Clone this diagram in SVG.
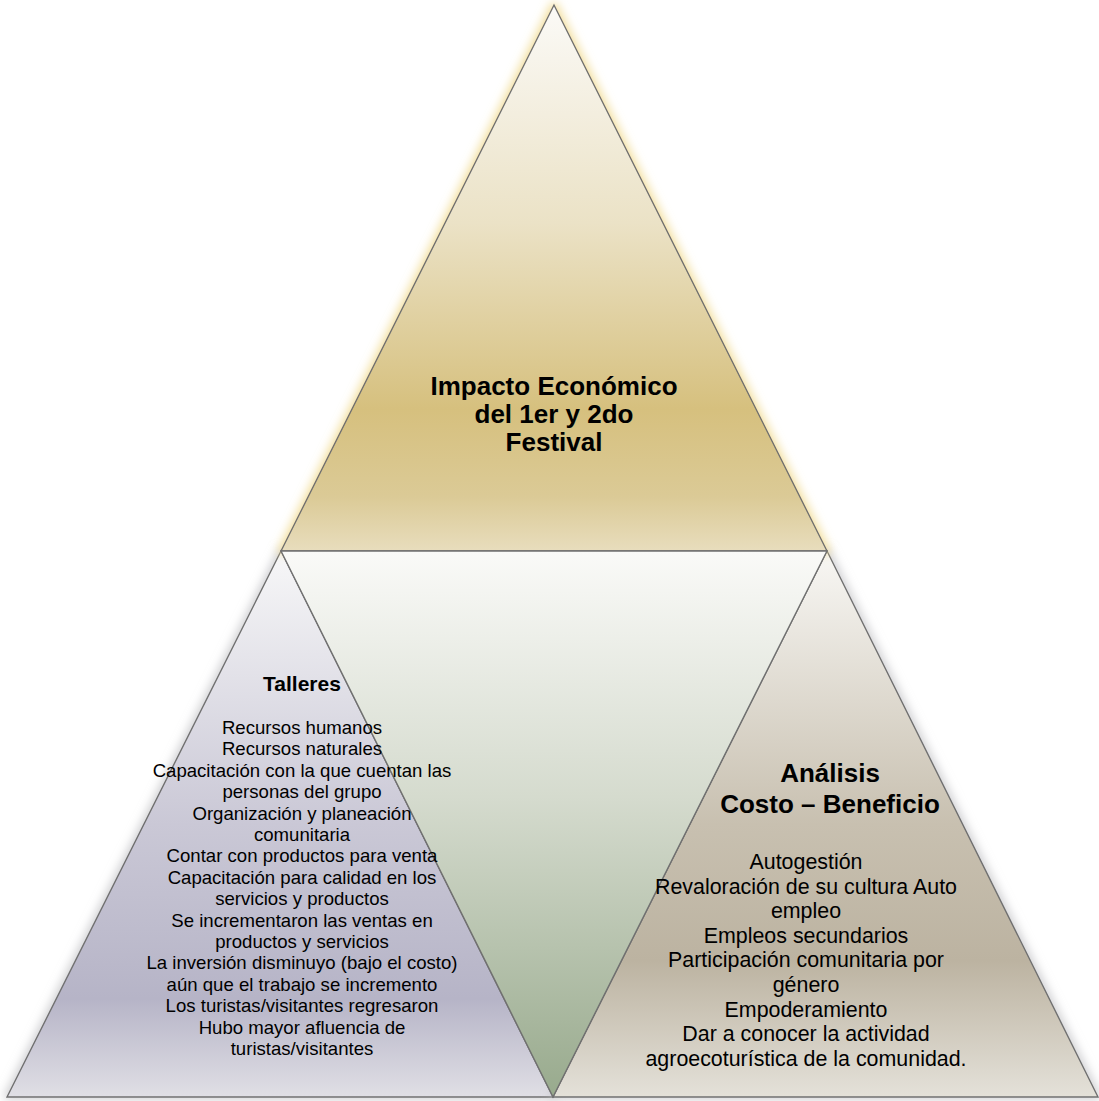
<svg xmlns="http://www.w3.org/2000/svg" width="1099" height="1101" viewBox="0 0 1099 1101">
  <style>
    .tri { stroke: #707070; stroke-width: 1.4; stroke-linejoin: miter; }
    .head { font-family: "Liberation Sans", Arial, sans-serif; font-weight: bold; fill: #000; text-anchor: middle; }
    .body { font-family: "Liberation Sans", Arial, sans-serif; fill: #000; text-anchor: middle; }
  </style>
  <defs>
    <linearGradient id="gTop" x1="0" y1="5" x2="0" y2="551" gradientUnits="userSpaceOnUse">
      <stop offset="0" stop-color="#fbfaf7"/>
      <stop offset="0.4" stop-color="#ebe2c6"/>
      <stop offset="0.74" stop-color="#d6c07e"/>
      <stop offset="0.9" stop-color="#dbca96"/>
      <stop offset="1" stop-color="#e8ddbd"/>
    </linearGradient>
    <linearGradient id="gMid" x1="0" y1="551" x2="0" y2="1097" gradientUnits="userSpaceOnUse">
      <stop offset="0" stop-color="#fafaf8"/>
      <stop offset="0.45" stop-color="#d5dbce"/>
      <stop offset="1" stop-color="#98aa8d"/>
    </linearGradient>
    <linearGradient id="gLeft" x1="0" y1="551" x2="0" y2="1097" gradientUnits="userSpaceOnUse">
      <stop offset="0" stop-color="#f7f7f8"/>
      <stop offset="0.5" stop-color="#cac8d6"/>
      <stop offset="0.82" stop-color="#b6b4c7"/>
      <stop offset="1" stop-color="#e0dfe5"/>
    </linearGradient>
    <linearGradient id="gRight" x1="0" y1="551" x2="0" y2="1097" gradientUnits="userSpaceOnUse">
      <stop offset="0" stop-color="#f8f7f4"/>
      <stop offset="0.5" stop-color="#c8c0b0"/>
      <stop offset="0.75" stop-color="#bcb3a1"/>
      <stop offset="1" stop-color="#e4e1d9"/>
    </linearGradient>
    <filter id="glowGold" x="-10%" y="-10%" width="120%" height="120%">
      <feMorphology in="SourceAlpha" operator="dilate" radius="2" result="d"/>
      <feGaussianBlur in="d" stdDeviation="5" result="b"/>
      <feFlood flood-color="#f0d888" flood-opacity="0.8"/>
      <feComposite in2="b" operator="in" result="g"/>
      <feMerge><feMergeNode in="g"/><feMergeNode in="SourceGraphic"/></feMerge>
    </filter>
    <filter id="glowGray" x="-10%" y="-10%" width="120%" height="120%">
      <feMorphology in="SourceAlpha" operator="dilate" radius="2" result="d"/>
      <feGaussianBlur in="d" stdDeviation="5" result="b"/>
      <feFlood flood-color="#b8b8bc" flood-opacity="0.65"/>
      <feComposite in2="b" operator="in" result="g"/>
      <feMerge><feMergeNode in="g"/><feMergeNode in="SourceGraphic"/></feMerge>
    </filter>
  </defs>
  <rect width="1099" height="1101" fill="#ffffff"/>

  <g id="connectors"/>

  <g id="node-left">
    <polygon class="tri" points="281,551 7,1097 553,1097" fill="url(#gLeft)" filter="url(#glowGray)"/>
  </g>
  <g id="node-right">
    <polygon class="tri" points="827,551 553,1097 1098,1097" fill="url(#gRight)" filter="url(#glowGray)"/>
  </g>
  <g id="node-top">
    <polygon class="tri" points="554,5 281,551 827,551" fill="url(#gTop)" filter="url(#glowGold)"/>
    <text class="head" font-size="26" x="554" y="395">Impacto Económico</text>
    <text class="head" font-size="26" x="554" y="423">del 1er y 2do</text>
    <text class="head" font-size="26" x="554" y="451">Festival</text>
  </g>
  <g id="node-center">
    <polygon class="tri" points="281,551 827,551 553,1097" fill="url(#gMid)"/>
  </g>

  <g id="node-left-text">
    <text class="head" font-size="21" x="302" y="691">Talleres</text>
    <g class="body" font-size="18.6">
      <text x="302" y="734">Recursos humanos</text>
      <text x="302" y="755.4">Recursos naturales</text>
      <text x="302" y="776.8">Capacitación con la que cuentan las</text>
      <text x="302" y="798.2">personas del grupo</text>
      <text x="302" y="819.6">Organización y planeación</text>
      <text x="302" y="841">comunitaria</text>
      <text x="302" y="862.4">Contar con productos para venta</text>
      <text x="302" y="883.8">Capacitación para calidad en los</text>
      <text x="302" y="905.2">servicios y productos</text>
      <text x="302" y="926.6">Se incrementaron las ventas en</text>
      <text x="302" y="948">productos y servicios</text>
      <text x="302" y="969.4">La inversión disminuyo (bajo el costo)</text>
      <text x="302" y="990.8">aún que el trabajo se incremento</text>
      <text x="302" y="1012.2">Los turistas/visitantes regresaron</text>
      <text x="302" y="1033.6">Hubo mayor afluencia de</text>
      <text x="302" y="1055">turistas/visitantes</text>
    </g>
  </g>

  <g id="node-right-text">
    <text class="head" font-size="26" x="830" y="782">Análisis</text>
    <text class="head" font-size="26" x="830" y="813">Costo – Beneficio</text>
    <g class="body" font-size="21.4">
      <text x="806" y="869">Autogestión</text>
      <text x="806" y="893.6">Revaloración de su cultura Auto</text>
      <text x="806" y="918.2">empleo</text>
      <text x="806" y="942.8">Empleos secundarios</text>
      <text x="806" y="967.4">Participación comunitaria por</text>
      <text x="806" y="992">género</text>
      <text x="806" y="1016.6">Empoderamiento</text>
      <text x="806" y="1041.2">Dar a conocer la actividad</text>
      <text x="806" y="1065.8">agroecoturística de la comunidad.</text>
    </g>
  </g>
</svg>
